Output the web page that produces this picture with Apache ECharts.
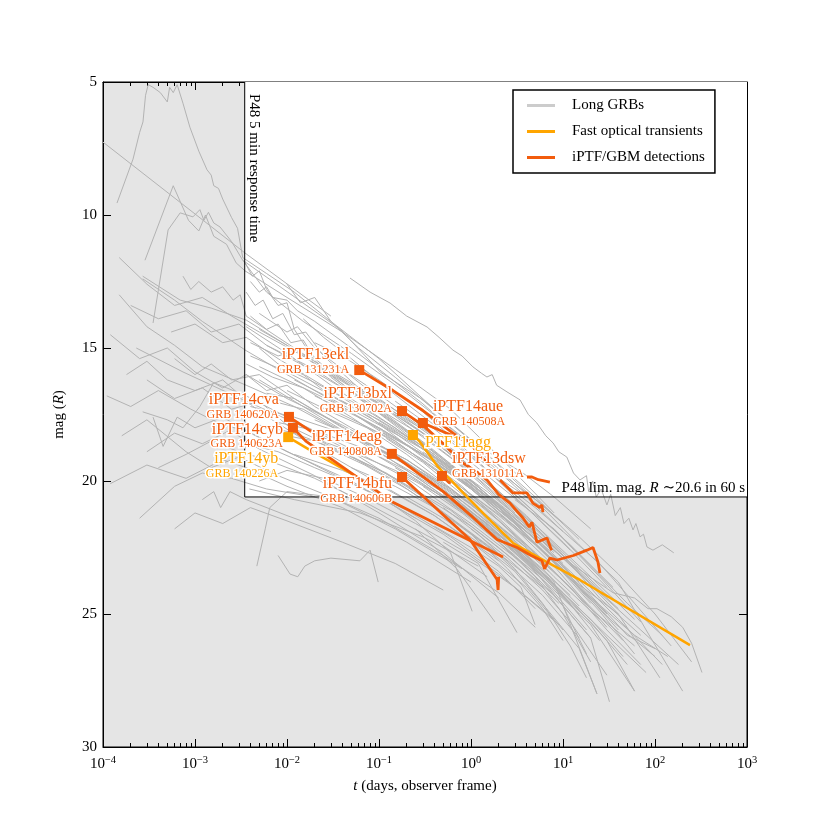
<!DOCTYPE html>
<html>
<head>
<meta charset="utf-8">
<title>GRB afterglows and iPTF/GBM detections</title>
<script src="https://cdn.jsdelivr.net/npm/echarts@6/dist/echarts.min.js"></script>
<style>
html,body{margin:0;padding:0;background:#fff}
#main{width:830px;height:830px}
</style>
</head>
<body>
<div id="main"></div>
<script>
// limits of the P48 follow-up
var P48_RESPONSE = 3.47e-3;   // 5 min, in days
var P48_LIMIT = 20.6;         // R mag in 60 s
var X_MIN = 1e-4, X_MAX = 1e3;
var Y_MIN = 5, Y_MAX = 30, Y_STEP = 5;
var xDecades = [-4, -3, -2, -1, 0, 1, 2, 3];

// Long GRB light curves: [t (days), R mag]
var longGrbs = [
  [[1.42e-4,9.55],[2.12e-4,7.9],[2.5e-4,6.9],[2.72e-4,6.5],[2.9e-4,5.5],[3.1e-4,5.1],[3.5e-4,5.2],[4.2e-4,5.4],[5e-4,5.75],[5.3e-4,5.2],[5.8e-4,5.4],[6.4e-4,5.1],[7.4e-4,5.8],[8.8e-4,6.7],[1.1e-3,7.6],[1.35e-3,8.3],[1.5e-3,8.5],[1.6e-3,8.9],[1.8e-3,9.0],[2.0e-3,9.4],[2.5e-3,10.1],[2.9e-3,10.5],[3.3e-3,11.6],[6e-3,12.2],[0.012,12.9],[0.03,14.0],[0.1,15.4],[0.4,17.3],[1.2,18.7],[4,20.4],[10,21.6]],
  [[1e-4,7.26],[3.5e-3,11.43],[0.03,13.8]],
  [[2.86e-4,11.7],[5.8e-4,8.9],[8.5e-4,10.2],[1.1e-3,10.6],[1.3e-3,10.0],[1.6e-3,10.8],[2.2e-3,11.1],[2.8e-3,11.8],[3.5e-3,12.1],[0.01,13.1],[0.04,14.4],[0.15,15.8],[0.6,17.3],[2.5,19.4],[8,21.2]],
  [[3.5e-4,14.06],[5.1e-4,10.56],[6.9e-4,9.92],[9.5e-4,10.07],[1.13e-3,9.8],[1.25e-3,10.2],[1.4e-3,9.9],[1.6e-3,10.3],[1.87e-3,10.45],[2.5e-3,11.0],[3.3e-3,11.7],[6e-3,12.9],[0.015,14.0],[0.05,15.2],[0.2,16.7],[1,18.6],[4,20.5]],
  [[3.3e-3,11.7],[0.038,14.3],[0.103,15.9],[0.3,16.95],[1.25,18.72],[3.67,19.7],[8,20.6],[20,21.8]],
  [[0.0484,12.37],[0.08,12.9],[0.132,13.31],[0.2,13.8],[0.333,14.21],[0.45,14.6],[0.637,15.08],[0.8,15.3],[1.05,15.71],[1.3,15.95],[1.49,16.09],[1.7,16.0],[1.9,16.4],[2.46,16.65],[3.41,16.95],[4.2,17.5],[5.2,17.82],[6.5,18.3],[7.8,18.57],[9,18.9],[11,19.1],[13,19.7],[15.3,19.96],[18,19.8],[19,20.4],[21,20.0],[23,20.6],[26,20.3],[30,20.9],[33,20.5],[37,21.3],[42,21.0],[46,21.6],[52,21.4],[57.7,21.84],[62,21.6],[68.8,22.1],[75,22.0],[81.8,22.48],[95,22.6],[120,22.4],[160,22.7]],
  [[2.7e-4,12.4],[6e-4,13.2],[1.2e-3,14.0],[3.6e-3,15.1],[0.01,16.0],[0.04,17.2],[0.15,18.5],[0.6,20.0],[2,21.5],[6,23.0]],
  [[7.4e-4,12.3],[9e-4,12.8],[1.1e-3,12.5],[1.5e-3,12.9],[2e-3,12.7],[2.6e-3,13.2],[3.1e-3,13.0],[3.6e-3,13.8],[0.008,14.6],[0.03,15.9],[0.1,17.0],[0.4,18.5],[1.5,20.2],[5,21.8],[15,23.4]],
  [[2.7e-4,12.3],[6.9e-4,13.2],[1.5e-3,13.5],[3.6e-3,13.95],[0.01,14.9],[0.05,16.3],[0.2,17.6],[1,19.3],[4,21.0],[12,22.6]],
  [[2.3e-4,15.0],[7.4e-4,15.9],[3.6e-3,17.0],[0.012,17.8],[0.05,18.9],[0.3,20.6],[1.5,22.4],[6,24.0]],
  [[2.7e-4,17.4],[5e-4,17.7],[7.4e-4,18.0],[1.13e-3,17.2],[1.6e-3,16.3],[3.6e-3,16.8],[0.01,17.6],[0.05,18.8],[0.2,19.9],[1,21.6],[4,23.2]],
  [[3.5e-4,17.6],[4.5e-4,18.7],[6.4e-4,17.6],[1e-3,18.0],[2e-3,17.6],[4e-3,18.2],[0.02,19.4],[0.1,20.6],[0.5,22.0],[2,23.5],[8,25.2]],
  [[1.2e-3,20.7],[1.6e-3,20.4],[1.9e-3,21.0],[2.4e-3,20.4],[3.6e-3,20.7],[0.01,21.3],[0.03,21.9]],
  [[3.9e-3,20.3],[0.012,20.7],[0.062,21.2],[0.3,22.1],[1.2,23.2]],
  [[4.7e-3,23.2],[5.8e-3,21.8],[6.5e-3,21.0],[0.01,20.4],[0.03,20.6],[0.1,21.4],[0.5,22.8],[2,24.2],[5,25.5]],
  [[8e-3,22.8],[0.0108,23.5],[0.0131,23.6],[0.0156,23.2],[0.02,23.0],[0.03,22.9],[0.062,23.0],[0.08,22.6],[0.098,23.8]],
  [[1.5e-4,13.0],[3e-4,14.2],[6e-4,14.9],[1.2e-3,15.7],[3.6e-3,16.4],[0.012,17.2],[0.06,18.5],[0.3,19.9],[1.5,21.6]],
  [[1.8e-4,16.0],[3e-4,15.5],[5e-4,16.2],[1e-3,16.6],[2e-3,16.2],[5e-3,17.4],[0.02,18.7],[0.08,19.9],[0.4,21.3],[2,23.0]],
  [[3e-4,18.9],[6e-4,18.2],[1.2e-3,18.6],[2.4e-3,18.1],[5e-3,18.8],[0.02,19.8],[0.1,21.2],[0.5,22.7],[2,24.4]],
  [[5.5e-4,14.4],[1e-3,14.1],[2e-3,14.8],[3.6e-3,14.6],[0.008,15.4],[0.03,16.6],[0.12,17.9],[0.5,19.3],[2,21.0],[7,22.6]],
  [[1.6e-4,18.3],[3e-4,17.7],[8e-4,18.9],[1.5e-3,19.5],[3e-3,19.1],[8e-3,19.8],[0.03,20.6],[0.15,21.8],[0.8,23.3]],
  [[2.5e-4,21.4],[6e-4,20.2],[1.2e-3,19.7],[2.5e-3,19.9],[6e-3,20.3],[0.02,20.6]],
  [[6e-4,15.4],[1e-3,16.0],[1.5e-3,15.6],[2.5e-3,16.2],[5e-3,16.0],[0.012,16.9],[0.05,18.2],[0.2,19.6],[1,21.3],[4,22.8],[12,24.3]],
  [[3.5e-3,11.8],[4.2e-3,12.3],[5e-3,12.1],[6e-3,12.8],[8e-3,13.4],[0.01,13.3],[0.012,14.3],[0.017,15.1],[0.03,16.0],[0.08,17.2],[0.3,18.6],[1,20.0],[4,21.8]],
  [[4e-3,12.5],[5e-3,12.9],[6e-3,12.7],[7e-3,13.1],[0.01,13.2],[0.013,13.6],[0.02,14.0],[0.05,15.0],[0.1,15.8],[0.3,17.1],[1,18.7],[3,20.2],[10,21.9]],
  [[5e-3,13.7],[0.01,14.4],[0.013,14.2],[0.02,15.0],[0.04,15.8],[0.1,16.9],[0.4,18.4],[1.5,20.1],[5,21.7]],
  [[4e-3,14.8],[0.008,15.3],[0.015,15.0],[0.03,16.1],[0.08,17.2],[0.25,18.5],[1,20.2],[3,21.6],[10,23.4],[30,25.0]],
  [[0.01,15.8],[0.02,16.3],[0.05,17.0],[0.15,18.0],[0.5,19.4],[2,21.2],[8,23.2],[30,25.5]],
  [[6e-3,16.7],[0.012,16.9],[0.03,17.7],[0.1,18.8],[0.3,19.7],[1,21.0],[3,22.4],[10,24.2]],
  [[0.02,14.8],[0.04,15.3],[0.1,16.2],[0.3,17.4],[1,19.0],[3,20.6],[10,22.3],[30,24.0]],
  [[3.6e-3,15.6],[7e-3,16.1],[0.015,16.5],[0.05,17.6],[0.2,19.0],[0.8,20.6],[3,22.3],[12,24.6]],
  [[5e-3,17.9],[0.012,18.2],[0.04,18.9],[0.15,19.9],[0.6,21.1],[2,22.5],[8,24.3],[20,25.9]],
  [[0.03,17.3],[0.06,17.8],[0.15,18.5],[0.5,19.8],[1.5,21.1],[5,22.7],[20,24.8],[60,26.2]],
  [[3.6e-3,14.2],[0.01,15.2],[0.03,16.4],[0.1,17.6],[0.4,19.0],[1.5,20.6],[5,22.2],[15,23.8]],
  [[4e-3,15.3],[0.01,15.9],[0.04,17.0],[0.15,18.2],[0.5,19.5],[2,21.0],[6,22.6],[20,24.6]],
  [[0.01,16.6],[0.03,17.4],[0.1,18.2],[0.3,19.2],[1,20.5],[3,21.7],[10,23.3],[40,25.6]],
  [[0.005,16.2],[0.015,17.2],[0.05,18.3],[0.2,19.4],[0.7,20.7],[2.5,22.3],[9,24.1],[25,26.0]],
  [[0.02,18.4],[0.05,18.9],[0.15,19.6],[0.5,20.6],[1.5,21.8],[5,23.3],[15,25.0]],
  [[0.05,16.5],[0.12,17.3],[0.4,18.5],[1.2,19.8],[4,21.4],[12,23.1],[40,25.0]],
  [[0.006,14.9],[0.02,15.8],[0.06,16.9],[0.2,18.1],[0.8,19.7],[3,21.4],[10,23.1]],
  [[0.08,18.9],[0.2,19.7],[0.6,20.8],[2,22.2],[6,23.6],[20,25.3],[50,26.9]],
  [[0.012,19.0],[0.04,19.6],[0.12,20.3],[0.4,21.3],[1.2,22.5],[4,24.0],[10,25.6]],
  [[0.03,16.0],[0.1,17.1],[0.3,18.2],[1,19.6],[3,21.0],[9,22.6],[25,24.4],[70,25.8]],
  [[0.2,17.5],[0.5,18.6],[1.5,20.0],[4,21.3],[10,22.7],[30,24.3]],
  [[0.004,17.2],[0.012,17.6],[0.04,18.2],[0.15,19.1],[0.6,20.3],[2,21.7],[7,23.4]],
  [[0.1,17.8],[0.25,18.6],[0.6,19.5],[1.5,20.6],[4,22.0],[12,23.7],[35,25.3],[100,26.6]],
  [[0.15,19.5],[0.4,20.4],[1,21.4],[3,22.8],[8,24.3],[20,25.9],[32,28.3]],
  [[0.2,20.6],[0.5,21.4],[1.3,22.4],[3,23.4],[7,24.9],[15,26.3],[23.4,28.0]],
  [[0.3,18.9],[0.7,19.8],[2,21.2],[5,22.4],[15,24.0],[60,25.8],[138,26.6]],
  [[0.08,20.3],[0.25,21.5],[0.6,22.7],[1.03,24.9]],
  [[0.5,20.5],[1,21.3],[2.5,22.6],[6,23.7],[20,25.4],[60,27.9]],
  [[0.6,19.4],[1.5,20.4],[4,21.6],[10,22.9],[35,24.2],[60,24.4],[84,24.8],[105,24.8],[150,25.1],[200,25.5],[250,26.1],[324,27.2]],
  [[1,20.5],[2,21.3],[5,22.4],[15,23.9],[40,25.0],[113,27.4]],
  [[0.4,21.7],[1,22.5],[2,23.2],[3.5,24.0],[4.97,25.4]],
  [[0.25,21.8],[0.7,23.3],[1.82,25.3]],
  [[0.5,22.3],[1.2,23.1],[3.16,25.7]],
  [[1.2,21.6],[3,22.6],[8,23.8],[23.4,28.0]],
  [[2,22.0],[5,23.2],[12,24.5],[30,26.0],[60,27.9]],
  [[1.5,19.6],[3,20.3],[6,21.0],[15,22.4],[40,23.8],[80,25.6],[200,27.9]],
  [[3,20.7],[8,21.8],[20,23.2],[50,24.6],[120,25.8]],
  [[0.12,18.4],[0.3,19.3],[0.8,20.5],[2,21.9],[5,23.4],[10,24.7],[18,26.5]],
  [[3.6e-3,12.9],[4.5e-3,13.4],[5.5e-3,13.2],[7e-3,13.9],[9e-3,13.7],[0.012,14.5],[0.016,14.4],[0.025,15.3],[0.06,16.5],[0.2,17.9],[0.7,19.3],[2.5,21.0],[8,22.7]],
  [[4e-3,13.8],[6e-3,14.3],[8e-3,14.1],[0.011,14.8],[0.015,14.7],[0.02,15.4],[0.04,16.2],[0.1,17.3],[0.35,18.7],[1.2,20.2],[4,21.9],[12,23.5]],
  [[3.6e-3,16.0],[6e-3,16.6],[0.01,16.4],[0.02,17.2],[0.05,18.0],[0.15,19.0],[0.5,20.3],[1.6,21.7],[5,23.3],[15,25.0]],
  [[0.005,15.0],[0.008,15.6],[0.015,16.0],[0.03,16.8],[0.08,17.6],[0.25,18.9],[0.8,20.2],[2.5,21.8],[8,23.6],[25,25.2]],
  [[0.007,17.0],[0.015,17.3],[0.03,17.9],[0.07,18.5],[0.2,19.4],[0.6,20.6],[2,22.1],[6,23.7],[18,25.6]],
  [[0.01,18.3],[0.02,18.5],[0.05,19.1],[0.12,19.7],[0.35,20.7],[1,21.7],[3,23.0],[9,24.6]],
  [[3.6e-3,18.6],[0.008,18.9],[0.02,19.5],[0.06,20.2],[0.2,21.1],[0.6,22.1],[2,23.4],[5,24.8]],
  [[0.015,13.9],[0.025,14.6],[0.05,15.4],[0.12,16.5],[0.4,17.9],[1.2,19.3],[4,20.9],[12,22.4],[35,24.0]],
  [[0.04,15.8],[0.08,16.5],[0.2,17.5],[0.6,18.8],[2,20.4],[6,21.9],[20,23.6],[60,25.2]],
  [[0.06,17.6],[0.15,18.4],[0.4,19.3],[1.2,20.5],[4,21.9],[12,23.4],[40,25.2],[120,26.9]],
  [[0.09,18.6],[0.2,19.2],[0.5,20.1],[1.5,21.3],[5,22.8],[15,24.3],[45,26.0]],
  [[0.25,19.8],[0.6,20.6],[1.5,21.6],[4,22.9],[10,24.2],[30,25.8],[80,27.2]],
  [[0.4,19.2],[1,20.1],[3,21.4],[8,22.6],[25,24.2],[70,25.6],[180,26.9]],
  [[0.7,20.8],[1.5,21.7],[3.5,22.7],[8,23.9],[20,25.2],[45,26.6]],
  [[2.5,20.2],[5,21.0],[10,21.9],[25,23.1],[60,24.6],[150,26.2]],
  [[1,19.0],[2.5,19.9],[6,20.9],[15,22.1],[40,23.5],[100,25.0],[250,26.8]],
  [[0.15,17.0],[0.35,17.9],[1,19.1],[3,20.5],[9,22.0],[25,23.6],[70,25.3]],
  [[5e-3,14.3],[0.01,14.9],[0.02,15.6],[0.05,16.6],[0.15,17.8],[0.5,19.2],[1.5,20.6],[5,22.2]],
  [[0.02,16.8],[0.04,17.3],[0.1,18.0],[0.3,19.0],[1,20.3],[3,21.7],[10,23.3],[30,25.0]],
  [[0.03,18.8],[0.07,19.4],[0.2,20.3],[0.6,21.4],[2,22.8],[6,24.3],[15,25.9]],
  [[1.2e-4,20.1],[3e-4,19.4],[8e-4,19.9],[2e-3,19.2],[3.6e-3,19.5],[0.01,20.2],[0.04,21.0],[0.2,22.3],[1,23.8]],
  [[1.1e-4,16.8],[2e-4,17.2],[4e-4,16.6],[9e-4,17.3],[2e-3,17.9],[3.6e-3,18.1],[0.01,18.9],[0.05,20.0],[0.25,21.4]],
  [[1.2e-4,14.5],[2.5e-4,15.4],[5e-4,15.0],[1e-3,15.9],[2e-3,16.5],[3.6e-3,16.0],[0.01,16.9],[0.04,17.9],[0.2,19.2],[1,20.9],[4,22.5]],
  [[2e-4,13.4],[4e-4,13.9],[8e-4,13.6],[1.5e-3,14.4],[3e-3,14.1],[6e-3,14.9],[0.02,15.9],[0.08,17.1],[0.3,18.3],[1,19.7],[3,21.2]],
  [[3e-4,16.2],[6e-4,16.9],[1.2e-3,16.5],[2.5e-3,17.3],[5e-3,17.0],[0.01,17.9],[0.04,18.9],[0.15,20.0],[0.6,21.4],[2.5,23.0]],
  [[4e-4,19.5],[8e-4,19.0],[1.5e-3,18.5],[3e-3,18.9],[6e-3,19.2],[0.02,19.9],[0.08,20.9],[0.4,22.2],[1.5,23.6]],
  [[6e-4,21.8],[1e-3,21.2],[2e-3,21.6],[4e-3,21.0],[0.01,21.5],[0.04,22.3],[0.15,23.1],[0.5,24.1]],
  [[1.5e-4,11.6],[3e-4,12.6],[6e-4,13.4],[1.2e-3,13.1],[2.5e-3,13.8],[5e-3,14.4],[0.015,15.3],[0.06,16.6],[0.25,17.9]],
  [[5e-3,20.0],[0.01,19.6],[0.025,19.9],[0.07,20.6],[0.25,21.6],[0.8,22.6],[3,24.0],[9,25.4]],
  [[0.01,12.6],[0.014,13.3],[0.02,13.1],[0.03,14.0],[0.06,15.0],[0.15,16.1],[0.5,17.6],[1.5,19.0],[5,20.6],[15,22.2]],
  [[0.3,20.2],[0.8,21.2],[2,22.3],[5,23.6],[10,25.0],[20,26.8]],
  [[0.5,21.0],[1.2,22.0],[3,23.3],[6,24.6],[12,26.2],[18,27.4]],
  [[1,21.8],[2.5,22.9],[6,24.1],[12,25.3],[30,27.3]],
  [[0.7,20.1],[2,21.4],[5,22.7],[12,24.0],[30,25.6],[70,26.9]],
  [[0.05,19.5],[0.15,20.2],[0.4,21.0],[1,22.0],[2.5,23.3],[6,24.8],[10,26.0]],
  [[0.02,17.7],[0.06,18.4],[0.2,19.3],[0.6,20.4],[2,21.9],[6,23.3],[15,24.7]],
  [[0.008,17.8],[0.02,18.1],[0.06,18.7],[0.2,19.6],[0.7,20.9],[2.5,22.4],[8,24.0]],
  [[0.012,16.2],[0.03,16.9],[0.09,17.8],[0.3,18.8],[1,20.1],[3,21.4],[10,22.9],[40,24.8]],
  [[0.1,18.1],[0.3,19.0],[0.9,20.1],[3,21.6],[9,23.2],[25,24.9],[60,26.5]],
  [[2,21.1],[4,21.9],[9,23.0],[20,24.3],[50,25.8],[100,26.3]],
  [[0.04,17.0],[0.1,17.7],[0.3,18.7],[0.9,19.9],[2.7,21.2],[8,22.5],[25,24.1]],
  [[5e-3,15.7],[0.01,16.2],[0.03,17.0],[0.1,18.0],[0.3,19.0],[1,20.2],[3,21.6],[9,23.2]]
];

// iPTF/GBM detections (first point = discovery)
var iptf13ekl = [[0.061,15.83],[0.142,16.6],[0.3,17.35],[0.7,18.3]];
var iptf13bxl = [[0.178,17.37],[0.3,17.9],[0.5,18.6],[0.8,19.3],[1.2,19.7],[1.49,19.96],[2.0,20.5],[2.65,20.83],[3.67,21.39],[4.3,21.73],[4.6,21.55],[5.2,22.3],[6.7,22.14],[7.5,22.6]];
var iptf14aue = [[0.30,17.82],[0.5,18.15],[0.75,18.4],[0.96,18.5],[1.2,19.0],[1.6,19.4]];
var iptf13dsw = [[0.484,19.81],[0.52,19.9],[0.58,20.07],[0.6,20.04]];
var iptf14eag = [[0.138,18.98],[0.5,20.4],[1.0,21.3],[1.92,22.2],[3.16,22.5],[4.5,22.8],[5.9,23.0],[6.3,23.3],[7.2,22.9],[8.6,22.97],[13,22.8],[18.2,22.6],[21.2,22.5],[24,23.05],[25.2,23.46]];
var iptf14bfu = [[0.178,19.85],[0.975,22.2],[1.92,23.7],[1.97,24.1],[2.0,23.6]];
var iptf14cva = [[0.0105,17.59],[0.016,18.0],[0.025,18.45]];
var iptf14cyb = [[0.0116,18.0],[0.016,18.5],[0.142,20.8],[2.23,22.86]];
var iptfExtraA = [[2.07,19.96],[2.86,20.45],[4.06,20.45],[4.7,20.83],[5.6,21.0],[5.9,20.9],[6.05,21.17]];
var iptfExtraB = [[4.06,19.85],[4.6,19.85],[5.4,19.95],[7.2,20.04]];

var iptfNames = ['iPTF13ekl','iPTF13bxl','iPTF14aue','iPTF13dsw','iPTF14eag','iPTF14bfu','iPTF14cva','iPTF14cyb'];
var iptfGrbs = ['GRB 131231A','GRB 130702A','GRB 140508A','GRB 131011A','GRB 140808A','GRB 140606B','GRB 140620A','GRB 140623A'];
var iptfCurves = [iptf13ekl, iptf13bxl, iptf14aue, iptf13dsw, iptf14eag, iptf14bfu, iptf14cva, iptf14cyb];

// fast optical transients
var ptf11agg = [[0.234,18.27],[0.279,18.53],[0.438,19.47],[0.906,20.6],[1.61,21.47],[2.86,22.33],[6.7,23.05],[15.3,23.72],[240,26.17]];
var iptf14yb = [[0.0103,18.35],[0.018,18.85],[0.058,19.85]];
var fastNames = ['PTF11agg','iPTF14yb'];
var fastGrbs = ['', 'GRB 140226A'];
var fastCurves = [ptf11agg, iptf14yb];

// label placement next to the discovery squares
var labelPlace = {
  'iPTF13ekl': ['left', [0, -9]],
  'iPTF13bxl': ['left', [0, -11]],
  'iPTF14aue': ['right', [0, -10]],
  'iPTF13dsw': ['right', [0, -11]],
  'iPTF14eag': ['left', [0, -11]],
  'iPTF14bfu': ['left', [0, 13]],
  'iPTF14cva': ['left', [0, -11]],
  'iPTF14cyb': ['left', [0, 8]],
  'PTF11agg': ['right', [2, 8]],
  'iPTF14yb': ['left', [0, 28]]
};

var SERIF = "'Liberation Serif','DejaVu Serif',serif";
var GRAY = '#b3b3b3';
var ORANGE = '#f25c0d';
var YELLOW = '#ffa500';

var chart = echarts.init(document.getElementById('main'));

var minorTicks = [];
for (var d = -4; d < 3; d++) {
    for (var k = 2; k <= 9; k++) minorTicks.push(k * Math.pow(10, d));
}
var majorTicks = xDecades.map(function (e) { return Math.pow(10, e); });

function expLabel(v) {
    var e = Math.round(Math.log(v) / Math.LN10);
    return '{b|10}{s|' + (e < 0 ? '\u2212' + (-e) : e) + '}';
}

var series = [];

// white region inside the P48 limits
series.push({
    type: 'line', name: 'area', data: [], z: 1, silent: true,
    markArea: {
        silent: true,
        itemStyle: {color: '#fff'},
        data: [[{coord: [P48_RESPONSE, Y_MIN]}, {coord: [X_MAX, P48_LIMIT]}]]
    }
});

longGrbs.forEach(function (c) {
    series.push({
        type: 'line', name: 'Long GRBs', data: c, z: 2, silent: true,
        symbol: 'none', itemStyle: {color: GRAY}, lineStyle: {color: GRAY, width: 1}
    });
});

series.push({
    type: 'line', name: 'limits', z: 3, silent: true, symbol: 'none',
    data: [[P48_RESPONSE, Y_MIN], [P48_RESPONSE, P48_LIMIT], [X_MAX, P48_LIMIT]],
    itemStyle: {color: '#000'}, lineStyle: {color: '#000', width: 1}
});

fastCurves.forEach(function (c) {
    series.push({
        type: 'line', name: 'Fast optical transients', data: c, z: 4, silent: true,
        symbol: 'none', itemStyle: {color: YELLOW}, lineStyle: {color: YELLOW, width: 2.5}
    });
});
iptfCurves.concat([iptfExtraA, iptfExtraB]).forEach(function (c) {
    series.push({
        type: 'line', name: 'iPTF/GBM detections', data: c, z: 5, silent: true,
        symbol: 'none', itemStyle: {color: ORANGE}, lineStyle: {color: ORANGE, width: 2.8}
    });
});

// discovery squares with their labels
function marker(name, grb, first, color) {
    var p = labelPlace[name];
    var rs = {
        a: {fontSize: 16, lineHeight: 17, fontFamily: SERIF, color: color, textBorderColor: '#fff', textBorderWidth: 3},
        b: {fontSize: 12, lineHeight: 13, fontFamily: SERIF, color: color, textBorderColor: '#fff', textBorderWidth: 3}
    };
    return {
        value: first,
        itemStyle: {color: color, opacity: 1},
        label: {
            show: true, position: p[0], offset: p[1], distance: 5,
            formatter: grb ? '{a|' + name + '}\n{b|' + grb + '}' : '{a|' + name + '}',
            rich: rs
        }
    };
}
var marks = [];
iptfCurves.forEach(function (c, i) { marks.push(marker(iptfNames[i], iptfGrbs[i], c[0], ORANGE)); });
fastCurves.forEach(function (c, i) { marks.push(marker(fastNames[i], fastGrbs[i], c[0], YELLOW)); });
series.push({
    type: 'scatter', name: 'markers', data: marks, z: 6, silent: true,
    symbol: 'rect', symbolSize: 10, itemStyle: {opacity: 1}
});

var option = {
    animation: false,
    backgroundColor: '#fff',
    grid: {left: 103, right: 83, top: 82, bottom: 83, show: true, backgroundColor: '#e5e5e5', borderColor: '#000', borderWidth: 1},
    legend: {
        data: [
            {name: 'Long GRBs', icon: 'rect', itemStyle: {color: '#cccccc'}},
            {name: 'Fast optical transients', icon: 'rect', itemStyle: {color: YELLOW}},
            {name: 'iPTF/GBM detections', icon: 'rect', itemStyle: {color: ORANGE}}
        ],
        orient: 'vertical', left: 513, top: 90,
        selectedMode: false,
        backgroundColor: '#fff', borderColor: '#000', borderWidth: 1.5, borderRadius: 0,
        padding: [7, 10, 7, 14],
        itemWidth: 28, itemHeight: 3, itemGap: 9,
        textStyle: {fontFamily: SERIF, fontSize: 15, lineHeight: 17, color: '#000', padding: [0, 0, 0, 12]}
    },
    xAxis: [
        {
            type: 'log', logBase: 10, min: X_MIN, max: X_MAX, position: 'bottom',
            axisLine: {lineStyle: {color: '#000', width: 1}},
            axisTick: {inside: true, length: 8, customValues: majorTicks, lineStyle: {color: '#000'}},
            axisLabel: {
                margin: 8, customValues: majorTicks, formatter: expLabel,
                rich: {
                    b: {fontFamily: SERIF, fontSize: 15, lineHeight: 18, color: '#000'},
                    s: {fontFamily: SERIF, fontSize: 10.5, lineHeight: 11, color: '#000', verticalAlign: 'top'}
                }
            },
            splitLine: {show: false},
            name: '{i|t}{n| (days, observer frame)}', nameLocation: 'middle', nameGap: 32,
            nameTextStyle: {rich: {
                i: {fontFamily: SERIF, fontSize: 15, fontStyle: 'italic', color: '#000'},
                n: {fontFamily: SERIF, fontSize: 15, color: '#000'}
            }}
        },
        {
            type: 'log', logBase: 10, min: X_MIN, max: X_MAX, position: 'bottom',
            axisLine: {show: false}, axisLabel: {show: false}, splitLine: {show: false},
            axisTick: {inside: true, length: 4, customValues: minorTicks, lineStyle: {color: '#000'}}
        },
        {
            type: 'log', logBase: 10, min: X_MIN, max: X_MAX, position: 'top',
            axisLine: {lineStyle: {color: '#000', width: 1}}, axisLabel: {show: false}, splitLine: {show: false},
            axisTick: {inside: true, length: 8, customValues: majorTicks, lineStyle: {color: '#000'}}
        },
        {
            type: 'log', logBase: 10, min: X_MIN, max: X_MAX, position: 'top',
            axisLine: {show: false}, axisLabel: {show: false}, splitLine: {show: false},
            axisTick: {inside: true, length: 4, customValues: minorTicks, lineStyle: {color: '#000'}}
        }
    ],
    yAxis: [
        {
            type: 'value', inverse: true, min: Y_MIN, max: Y_MAX, interval: Y_STEP, position: 'left',
            axisLine: {show: true, lineStyle: {color: '#000', width: 1}},
            axisTick: {show: true, inside: true, length: 8, lineStyle: {color: '#000'}},
            axisLabel: {margin: 6, fontFamily: SERIF, fontSize: 15, color: '#000'},
            splitLine: {show: false},
            name: '{n|mag (}{i|R}{n|)}', nameLocation: 'middle', nameGap: 36, nameRotate: 90,
            nameTextStyle: {rich: {
                i: {fontFamily: SERIF, fontSize: 15, fontStyle: 'italic', color: '#000'},
                n: {fontFamily: SERIF, fontSize: 15, color: '#000'}
            }}
        },
        {
            type: 'value', inverse: true, min: Y_MIN, max: Y_MAX, interval: Y_STEP, position: 'right',
            axisLine: {show: true, lineStyle: {color: '#000', width: 1}},
            axisTick: {show: true, inside: true, length: 8, lineStyle: {color: '#000'}},
            axisLabel: {show: false}, splitLine: {show: false}
        }
    ],
    series: series
};
chart.setOption(option);

// text annotations on the two P48 limits
var pTop = chart.convertToPixel({gridIndex: 0}, [P48_RESPONSE, Y_MIN]);
var pLim = chart.convertToPixel({gridIndex: 0}, [X_MAX, P48_LIMIT]);
chart.setOption({
    graphic: [
        {
            type: 'text', x: pTop[0] + 2, y: pTop[1] + 12, rotation: -Math.PI / 2, z: 20, silent: true,
            style: {text: 'P48 5 min response time', fontFamily: SERIF, fontSize: 15, fill: '#000', align: 'left', verticalAlign: 'bottom'}
        },
        {
            type: 'text', x: pLim[0] - 2, y: pLim[1] - 1, z: 20, silent: true,
            style: {
                text: '{n|P48 lim. mag. }{i|R}{n| \u223c20.6 in 60 s}',
                align: 'right', verticalAlign: 'bottom',
                rich: {
                    n: {fontFamily: SERIF, fontSize: 15, fill: '#000'},
                    i: {fontFamily: SERIF, fontSize: 15, fontStyle: 'italic', fill: '#000'}
                }
            }
        }
    ]
});
</script>
</body>
</html>
